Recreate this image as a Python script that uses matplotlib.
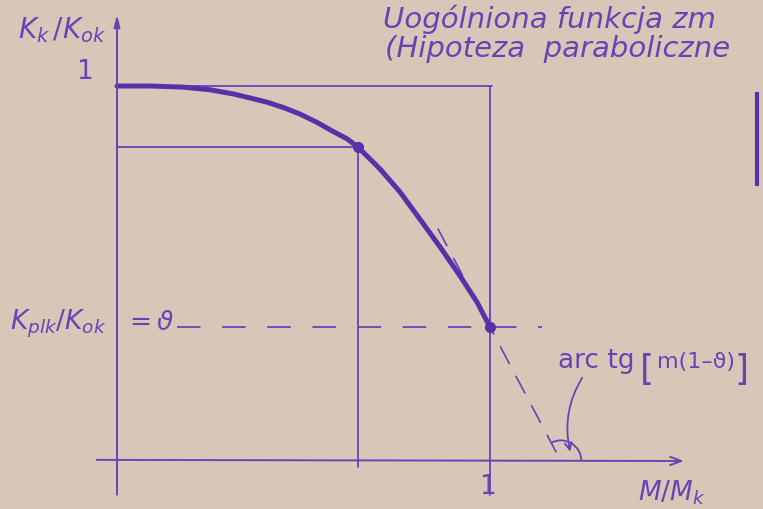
import matplotlib
matplotlib.use("Agg")
import matplotlib.pyplot as plt
from matplotlib.patches import Arc

# Stiffness ratio K_k/K_ok as a function of the moment ratio M/M_k
m_ratio = [0.0, 0.088, 0.177, 0.249, 0.311, 0.357, 0.402, 0.445, 0.491, 0.536,
           0.579, 0.617, 0.646, 0.705, 0.759, 0.812, 0.866, 0.920, 0.965, 1.0]
k_ratio = [1.0, 1.0, 0.997, 0.990, 0.979, 0.968, 0.957, 0.943, 0.925, 0.903,
           0.879, 0.859, 0.837, 0.779, 0.717, 0.645, 0.571, 0.493, 0.424, 0.357]

knee_m, knee_k = 0.646, 0.837        # end of the flat part of the curve
theta = 0.357                        # K_plk / K_ok
tangent_root = 1.19                  # where the end tangent meets the M axis

x_tick_labels = ["1"]
y_tick_labels = ["1"]

paper = "#dac5b9"
ink = "#6a42b4"
ink_dark = "#5a30a8"

fig = plt.figure(figsize=(7.63, 5.10), dpi=100, facecolor=paper)
ax = fig.add_axes([0, 0, 1, 1])
ax.set_xlim(-0.3137, 1.7319)
ax.set_ylim(-0.128, 1.232)
ax.axis("off")

thin = dict(color=ink, lw=1.3, solid_capstyle="round")

# axes with arrow heads
ax.annotate("", xy=(0.0, 1.19), xytext=(0.0, -0.09),
            arrowprops=dict(arrowstyle="-|>,head_length=0.7,head_width=0.18",
                            color=ink, lw=1.4, shrinkA=0, shrinkB=0))
ax.annotate("", xy=(1.52, 0.0), xytext=(-0.054, 0.003),
            arrowprops=dict(arrowstyle="->,head_length=0.8,head_width=0.3",
                            color=ink, lw=1.4, shrinkA=0, shrinkB=0))

# frame at K = 1 and M = 1
ax.plot([0.0, 1.005], [1.0, 1.0], **thin)
ax.plot([1.0, 1.0], [1.0, -0.09], **thin)

# projection of the knee point
ax.plot([0.0, knee_m], [knee_k, knee_k], **thin)
ax.plot([knee_m, knee_m], [knee_k, -0.015], **thin)

# level of K_plk/K_ok
ax.plot([0.16, 1.14], [theta, theta], color=ink, lw=1.3, dashes=(13, 12))

# tangent at M = 1
slope = -theta / (tangent_root - 1.0)
t_x = [0.86, tangent_root]
t_y = [theta + slope * (x - 1.0) for x in t_x]
ax.plot(t_x, t_y, color=ink, lw=1.2, dashes=(12, 8))

# main curve
ax.plot(m_ratio, k_ratio, color=ink_dark, lw=3.6, solid_capstyle="round",
        solid_joinstyle="round")
ax.plot([knee_m, 1.0], [knee_k, theta], "o", color=ink_dark, ms=7)

# angle mark at the tangent root
ax.add_patch(Arc((tangent_root, 0.0), 0.11, 0.11, theta1=0, theta2=120,
                 color=ink, lw=1.3))
ax.annotate("", xy=(1.215, 0.025), xytext=(1.247, 0.222),
            arrowprops=dict(arrowstyle="->,head_length=0.5,head_width=0.25",
                            connectionstyle="arc3,rad=0.2",
                            color=ink, lw=1.3, shrinkA=0, shrinkB=0))

# stray mark on the right edge
ax.plot([1.716, 1.716], [0.979, 0.739], color=ink_dark, lw=3)

txt = dict(color=ink, family="DejaVu Sans")

ax.text(-0.147, 1.152, r"$K_k\,/K_{ok}$", fontsize=20, ha="center", va="center", **txt)
ax.text(-0.086, 1.04, y_tick_labels[0], fontsize=19, ha="center", va="center", **txt)
ax.text(-0.287, 0.352, r"$K_{plk}/K_{ok}$", fontsize=19, ha="left", va="baseline", **txt)
ax.text(0.02, 0.352, r"$=\vartheta$", fontsize=19, ha="left", va="baseline", **txt)
ax.text(0.992, -0.067, x_tick_labels[0], fontsize=19, ha="center", va="center", **txt)
ax.text(1.488, -0.083, r"$M/M_k$", fontsize=19, ha="center", va="center", **txt)

# angle annotation arc tg[m(1-ϑ)]
ax.text(1.182, 0.250, "arc tg", fontsize=19, ha="left", va="baseline", **txt)
ax.text(1.402, 0.245, "[", fontsize=26, ha="left", va="center", **txt)
ax.text(1.447, 0.250, "m(1–ϑ)", fontsize=16, ha="left", va="baseline", **txt)
ax.text(1.655, 0.245, "]", fontsize=26, ha="left", va="center", **txt)

ax.text(0.713, 1.158, "Uogólniona funkcja zm", fontsize=21,
        ha="left", va="baseline", style="italic", **txt)
ax.text(0.718, 1.080, "(Hipoteza  paraboliczne", fontsize=21,
        ha="left", va="baseline", style="italic", **txt)

fig.savefig("out.png", dpi=100, facecolor=fig.get_facecolor())
